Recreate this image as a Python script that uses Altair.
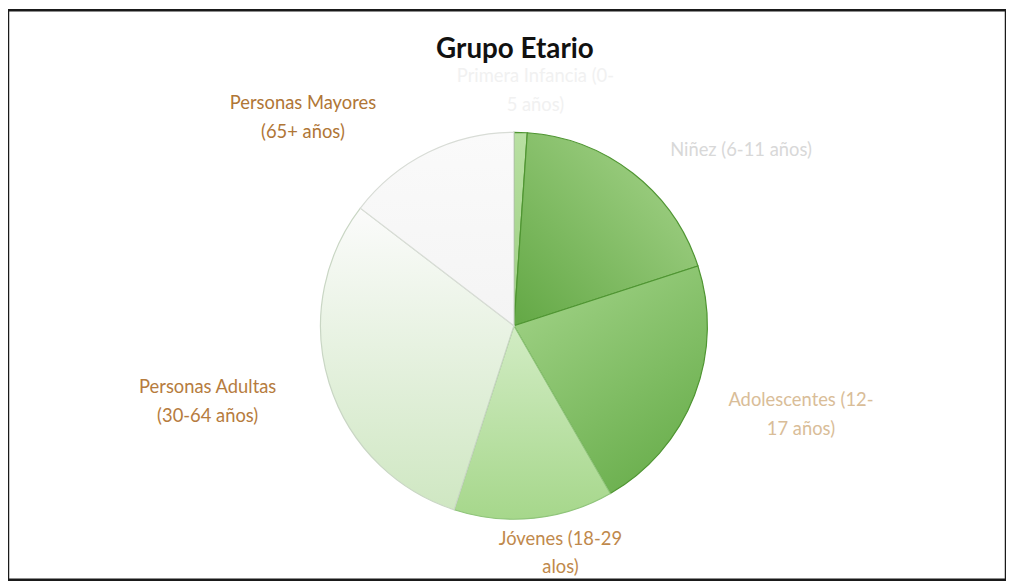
import altair as alt
import pandas as pd

# ---- data ----
categories = [
    "Primera Infancia (0-5 años)",
    "Niñez (6-11 años)",
    "Adolescentes (12-17 años)",
    "Jóvenes (18-29 años)",
    "Personas Adultas (30-64 años)",
    "Personas Mayores (65+ años)",
]
label_text = [
    "Primera Infancia (0-\n5 años)",
    "Niñez (6-11 años)",
    "Adolescentes (12-\n17 años)",
    "Jóvenes (18-29\nalos)",
    "Personas Adultas\n(30-64 años)",
    "Personas Mayores\n(65+ años)",
]
values = [1.1, 18.9, 21.7, 13.3, 30.4, 14.6]

# ---- styling ----
def lin(c0, c1, x1, y1, x2, y2):
    return {"gradient": "linear", "x1": x1, "y1": y1, "x2": x2, "y2": y2,
            "stops": [{"offset": 0, "color": c0}, {"offset": 1, "color": c1}]}

slice_fills = [
    lin("#b9e0a3", "#9ccf80", 0, 0, 0, 1),
    lin("#a9d68e", "#63a845", 1, 0, 0, 1),
    lin("#a5d58b", "#6cb04f", 0, 0, 0.6, 1),
    lin("#d2ecc4", "#a6d78b", 0.5, 0, 0.5, 1),
    lin("#fbfbfb", "#cfe7c2", 0.5, 0, 0.5, 1),
    lin("#fafafa", "#f4f4f4", 0.5, 0, 0.5, 1),
]
slice_strokes = ["#4f9532", "#4f9532", "#4f9532", "#8fc47a", "#c9d6c4", "#d8dcd6"]
text_colors = ["#f1f1f1", "#d8d8d8", "#d9bd98", "#bf894c", "#b67c3e", "#b07636"]

df = pd.DataFrame({
    "idx": list(range(len(categories))),
    "cat": categories,
    "label": label_text,
    "value": values,
})

W, H = 1006, 574
CX, CY, R = 510, 318, 195
LR = 250
nudge_x = [13, 75, 56, 21, -70, -102]
nudge_y = [-2, 20, -15, -34, -12, 0]

base = alt.Chart(df).transform_joinaggregate(
    total="sum(value)"
).transform_window(
    cum="sum(value)", sort=[alt.SortField("idx")], frame=[None, 0]
).transform_calculate(
    t0="(datum.cum - datum.value) / datum.total * 2 * PI",
    t1="datum.cum / datum.total * 2 * PI",
    mid="(datum.cum - datum.value/2) / datum.total * 2 * PI",
)

layers = []
for i in range(len(categories)):
    layers.append(
        base.transform_filter(f"datum.idx == {i}").mark_arc(
            radius=R, fill=slice_fills[i], stroke=slice_strokes[i], strokeWidth=1.2,
        ).encode(
            theta=alt.Theta("t0:Q", scale=None),
            theta2="t1:Q",
            x=alt.value(CX),
            y=alt.value(CY),
            tooltip=["cat:N", "value:Q"],
        )
    )

labels = base.transform_calculate(
    lx=f"{CX} + {LR}*sin(datum.mid) + {nudge_x}[datum.idx]",
    ly=f"{CY} - {LR}*cos(datum.mid) + {nudge_y}[datum.idx]",
).mark_text(
    font="Lato", fontSize=18.5, lineBreak="\n", lineHeight=29,
    align="center", baseline="middle",
).encode(
    x=alt.X("lx:Q", scale=None, axis=None),
    y=alt.Y("ly:Q", scale=None, axis=None),
    text="label:N",
    fill=alt.Fill("cat:N", scale=alt.Scale(domain=categories, range=text_colors), legend=None),
)

chart = alt.layer(*layers, labels).properties(
    width=W, height=H, padding=0,
    autosize=alt.AutoSizeParams(type="fit", contains="padding"),
    title=alt.TitleParams(
        "Grupo Etario", font="Lato", fontSize=28, fontWeight="bold",
        color="#111111", anchor="middle", offset=-82, baseline="bottom", dx=8,
    ),
).configure(
    background="white",
).configure_view(
    stroke="#1a1a1a", strokeWidth=2.5,
)

chart.save("out.html", embed_options={"renderer": "svg", "actions": False})
